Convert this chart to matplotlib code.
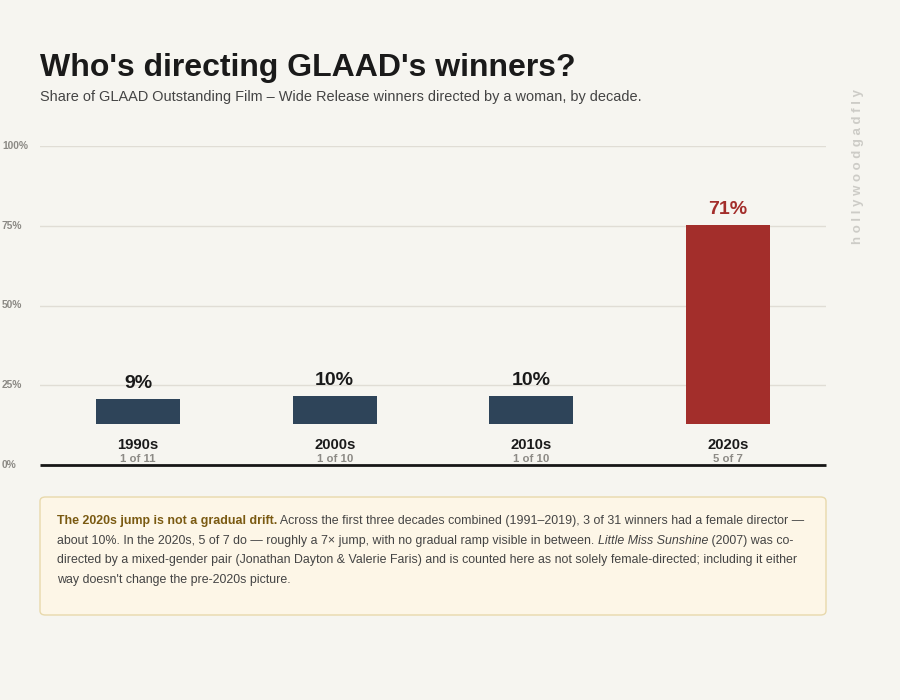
import matplotlib.pyplot as plt
from matplotlib.patches import FancyBboxPatch
from matplotlib.transforms import blended_transform_factory

plt.rcParams['font.family'] = ['Liberation Sans', 'DejaVu Sans']

# data
decades = ['1990s', '2000s', '2010s', '2020s']
share = [9.09, 10.0, 10.0, 71.43]
share_labels = ['9%', '10%', '10%', '71%']
counts = ['1 of 11', '1 of 10', '1 of 10', '5 of 7']
grid_ticks = [0, 25, 50, 75, 100]
tick_labels = ['0%', '25%', '50%', '75%', '100%']

BG = '#f6f5f0'
NAVY = '#2e4459'
RED = '#a32e2b'

W, H = 900, 700
fig = plt.figure(figsize=(9, 7), dpi=100, facecolor=BG)


def rect(x0, y0, x1, y1):
    # pixel box (top-left origin) -> figure fraction
    return [x0 / W, 1 - y1 / H, (x1 - x0) / W, (y1 - y0) / H]


# gridline axis
axg = fig.add_axes(rect(40, 146, 826, 465))
axg.set_facecolor('none')
axg.set_xlim(0, 1)
axg.set_ylim(0, 100)
for t in grid_ticks[1:]:
    axg.axhline(t, color='#e0ddd5', lw=1, zorder=0)
axg.axhline(0, color='#161616', lw=2, zorder=3, clip_on=False,
            solid_capstyle='butt')
axg.axis('off')
tr = blended_transform_factory(fig.transFigure, axg.transData)
for t, lab in zip(grid_ticks, tick_labels):
    axg.text(2 / W, t, lab, transform=tr, ha='left', va='center',
             fontsize=7.4, fontweight='bold', color='#8c8a85')

# bar axis (baseline sits above the 0% line, leaving room for labels)
ax = fig.add_axes(rect(40, 146, 826, 424))
ax.set_facecolor('none')
ax.set_xlim(-0.5, 3.5)
ax.set_ylim(0, 100)
ax.axis('off')
colors = [NAVY, NAVY, NAVY, RED]
ax.bar(range(len(decades)), share, width=0.43, color=colors, zorder=2)

for i, (v, lab) in enumerate(zip(share, share_labels)):
    ax.annotate(lab, (i, v), xytext=(0, 7), textcoords='offset pixels',
                ha='center', va='bottom', fontsize=14, fontweight='bold',
                color=RED if i == 3 else '#1a1a1a')
    ax.annotate(decades[i], (i, 0), xytext=(0, -21), textcoords='offset pixels',
                ha='center', va='center', fontsize=10.7, fontweight='bold',
                color='#1a1a1a')
    ax.annotate(counts[i], (i, 0), xytext=(0, -35), textcoords='offset pixels',
                ha='center', va='center', fontsize=8.2, fontweight='bold',
                color='#8c8a85')

# titles
fig.text(40 / W, 1 - 76 / H, "Who's directing GLAAD's winners?", fontsize=23,
         fontweight='bold', color='#1a1a1a', ha='left', va='baseline')
fig.text(40 / W, 1 - 101 / H,
         'Share of GLAAD Outstanding Film \u2013 Wide Release winners directed by a woman, by decade.',
         fontsize=10.45, color='#444444', ha='left', va='baseline')

# watermark
fig.text(858 / W, 1 - 166 / H, ' '.join('hollywoodgadfly'), rotation=90,
         fontsize=9.5, fontweight='bold', color='#cdccc7', ha='center', va='center')

# note box
box = FancyBboxPatch((40 / W, 1 - 615 / H), 786 / W, 118 / H,
                     boxstyle='round,pad=0,rounding_size=0.006',
                     transform=fig.transFigure, facecolor='#fdf6e7',
                     edgecolor='#e8d9ac', lw=1)
fig.patches.append(box)

TXT = '#444444'
FS = 8.95
lines = [
    [("The 2020s jump is not a gradual drift.", 'bold', 'normal', '#7a5a12'),
     (" Across the first three decades combined (1991\u20132019), 3 of 31 winners had a female director \u2014",
      'normal', 'normal', TXT)],
    [("about 10%. In the 2020s, 5 of 7 do \u2014 roughly a 7\u00d7 jump, with no gradual ramp visible in between. ",
      'normal', 'normal', TXT),
     ("Little Miss Sunshine", 'normal', 'italic', TXT),
     (" (2007) was co-", 'normal', 'normal', TXT)],
    [("directed by a mixed-gender pair (Jonathan Dayton & Valerie Faris) and is counted here as not solely female-directed; including it either",
      'normal', 'normal', TXT)],
    [("way doesn't change the pre-2020s picture.", 'normal', 'normal', TXT)],
]
for k, runs in enumerate(lines):
    y = 1 - (524 + k * 19.7) / H
    last = None
    for s, wt, st, col in runs:
        if last is None:
            last = fig.text(57 / W, y, s, fontsize=FS, fontweight=wt, style=st,
                            color=col, ha='left', va='baseline')
        else:
            last = fig.add_artist(plt.Annotation(s, xy=(1, 0), xycoords=last,
                                                 va='bottom', ha='left',
                                                 fontsize=FS, fontweight=wt,
                                                 style=st, color=col))

fig.savefig('out.png', dpi=100, facecolor=BG)
